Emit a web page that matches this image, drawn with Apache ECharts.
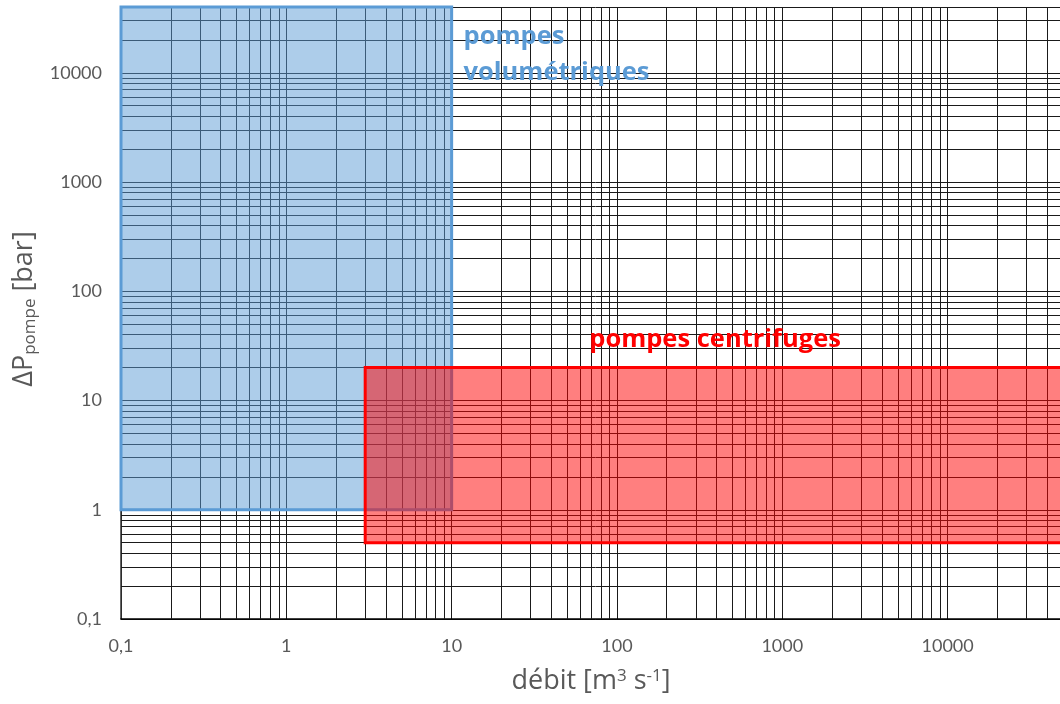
<!DOCTYPE html>
<html>
<head>
<meta charset="utf-8">
<script src="https://cdn.jsdelivr.net/npm/echarts@6/dist/echarts.min.js"></script>
<style>html,body{margin:0;padding:0;background:#fff;overflow:hidden}#c{width:1070px;height:704px}</style>
</head>
<body>
<div id="c"></div>
<script>
// ---- data ----
const xDecades = [0.1, 1, 10, 100, 1000, 10000];
const yDecades = [0.1, 1, 10, 100, 1000, 10000];
const minorMultipliers = [2, 3, 4, 5, 6, 7, 8, 9];
const xRange = [0.1, 55000];
const yRange = [0.1, 40000];
// zones: [xMin, xMax, yMin, yMax]
const volumetricZone = [0.1, 10, 1, 40000];
const centrifugalZone = [3, 100000, 0.5, 20];
const volumetricLabel = ['pompes', 'volumétriques'];
const volumetricLabelAt = [11.8, 14500];
const centrifugalLabel = 'pompes centrifuges';
const centrifugalLabelAt = [68, 36];

function minorValues(decades, range) {
  const out = [];
  decades.forEach(d => minorMultipliers.forEach(m => {
    const v = +(d * m).toPrecision(6);
    if (v > range[0] && v < range[1]) out.push(v);
  }));
  return out;
}
const xMinor = minorValues(xDecades, xRange);
const yMinor = minorValues(yDecades, yRange);

function fmt(v) {
  const l = Math.log10(v);
  if (Math.abs(l - Math.round(l)) > 1e-6) return '';
  const r = Math.pow(10, Math.round(l));
  return r < 1 ? String(+r.toFixed(1)).replace('.', ',') : String(Math.round(r));
}

const chart = echarts.init(document.getElementById('c'), null, {renderer: 'canvas'});
const gridColor = '#1a1a1a';
const labelStyle = {color: '#595959', fontFamily: 'Lato', fontSize: 18};
const titleFont = 'Open Sans';

chart.setOption({
  animation: false,
  grid: {left: 121, right: 0, top: 7, bottom: 85, containLabel: false},
  xAxis: {
    type: 'log', logBase: 10, min: xRange[0], max: xRange[1],
    axisLine: {show: true, lineStyle: {color: '#000', width: 1.5}},
    axisTick: {show: false},
    axisLabel: Object.assign({formatter: fmt, margin: 18, showMaxLabel: false}, labelStyle),
    splitLine: {show: true, lineStyle: {color: gridColor, width: 1}},
    name: 'débit [m{s|3} s{s|-1}]',
    nameLocation: 'middle', nameGap: 49,
    nameTextStyle: {color: '#595959', fontFamily: titleFont, fontSize: 27, padding: [0, 9, 0, 0],
      rich: {s: {fontSize: 17, verticalAlign: 'top', color: '#595959', fontFamily: titleFont, padding: [0, 0, 9, 0]}}}
  },
  yAxis: {
    type: 'log', logBase: 10, min: yRange[0], max: yRange[1],
    axisLine: {show: true, lineStyle: {color: '#333', width: 1.5}},
    axisTick: {show: false},
    axisLabel: Object.assign({formatter: fmt, margin: 19, showMaxLabel: false}, labelStyle),
    splitLine: {show: true, lineStyle: {color: gridColor, width: 1}},
    name: '{a|ΔP}{s|pompe}{a| [bar]}',
    nameLocation: 'middle', nameGap: 80, nameRotate: 90,
    nameTextStyle: {color: '#595959', fontFamily: titleFont, padding: [0, 0, 0, 8],
      rich: {a: {fontSize: 27, color: '#595959', fontFamily: titleFont},
             s: {fontSize: 17, color: '#595959', fontFamily: titleFont, verticalAlign: 'bottom', padding: [13, 0, 0, 0]}}}
  },
  series: [
    {
      type: 'line', data: [], silent: true, z: 1,
      markLine: {
        silent: true, symbol: ['none', 'none'], animation: false, z: 1,
        label: {show: false},
        lineStyle: {color: gridColor, width: 1, type: 'solid'},
        data: xMinor.map(v => ({xAxis: v})).concat(yMinor.map(v => ({yAxis: v})))
      }
    },
    {
      type: 'line', data: [], silent: true, z: 3,
      markArea: {
        silent: true, z: 3,
        data: [
          [{coord: [volumetricZone[0], volumetricZone[2]], itemStyle: {color: 'rgba(91,155,213,0.5)', borderColor: '#5b9bd5', borderWidth: 3}},
           {coord: [volumetricZone[1], volumetricZone[3]]}],
          [{coord: [centrifugalZone[0], centrifugalZone[2]], itemStyle: {color: 'rgba(255,0,0,0.5)', borderColor: '#ff0000', borderWidth: 3}},
           {coord: [centrifugalZone[1], centrifugalZone[3]]}]
        ],
        label: {show: false}
      },
      markPoint: {
        silent: true, symbol: 'circle', symbolSize: 0, z: 4,
        data: [
          {coord: volumetricLabelAt, label: {show: true, formatter: volumetricLabel.join('\n'), position: 'inside', align: 'left', verticalAlign: 'middle',
            color: '#5b9bd5', fontFamily: titleFont, fontWeight: 'bold', fontSize: 25.5, lineHeight: 36}},
          {coord: centrifugalLabelAt, label: {show: true, formatter: centrifugalLabel, position: 'inside', align: 'left', verticalAlign: 'middle',
            color: '#ff0000', fontFamily: titleFont, fontWeight: 'bold', fontSize: 25.5}}
        ]
      }
    }
  ]
});
</script>
</body>
</html>
